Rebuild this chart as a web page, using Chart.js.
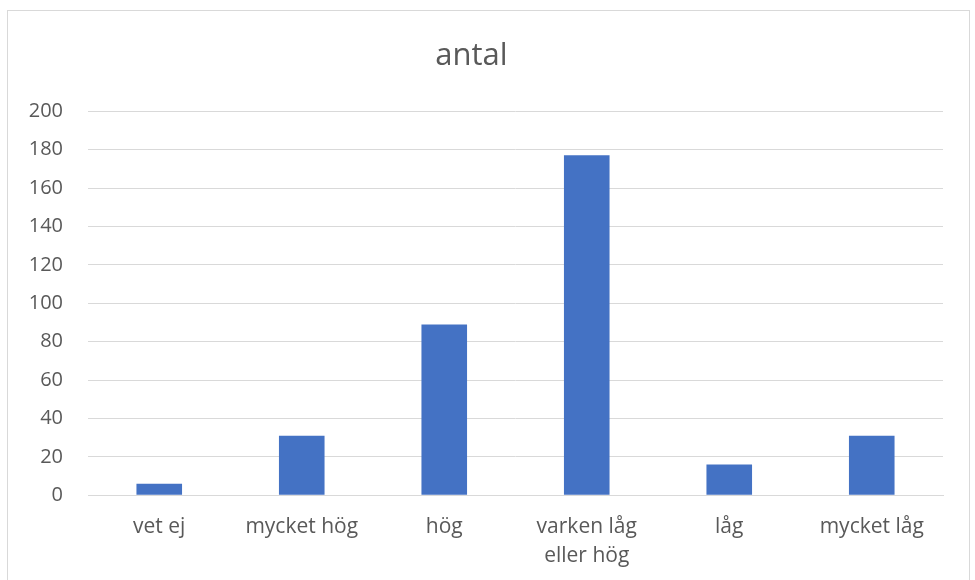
<!DOCTYPE html>
<html>
<head>
<meta charset="utf-8">
<script src="https://cdn.jsdelivr.net/npm/chart.js@4"></script>
<style>
  html, body { margin: 0; padding: 0; background: #fff; overflow: hidden; }
  #wrap { position: relative; width: 975px; height: 580px; overflow: hidden; }
  #ram { position: absolute; left: 7px; top: 10px; width: 961px; height: 600px; border: 1px solid #d9d9d9; }
  canvas { position: absolute; left: 0; top: 0; }
</style>
</head>
<body>
<div id="wrap">
  <div id="ram"></div>
  <canvas id="grafAntal" width="975" height="599"></canvas>
</div>
<script>
// data
const kategorier = ['vet ej', 'mycket hög', 'hög', ['varken låg', 'eller hög'], 'låg', 'mycket låg'];
const antal = [6, 31, 89, 177, 16, 31];
const yMin = 0;
const yMax = 200;
const ySteg = 20;

const typsnitt = "'Open Sans', 'Noto Sans', sans-serif";
const textfarg = '#595959';
const rutnat = '#d9d9d9';

new Chart(document.getElementById('grafAntal'), {
    type: 'bar',
    data: {
        labels: kategorier,
        datasets: [{
            label: 'antal',
            data: antal,
            backgroundColor: '#4472c4',
            borderWidth: 0,
            categoryPercentage: 1,
            barPercentage: 0.32
        }]
    },
    options: {
        responsive: false,
        animation: false,
        maintainAspectRatio: false,
        layout: { padding: { left: 0, right: 32, top: 0, bottom: 11 } },
        plugins: {
            legend: { display: false },
            tooltip: { enabled: false },
            title: {
                display: true,
                text: 'antal',
                color: textfarg,
                font: { family: typsnitt, size: 31, weight: 'normal' },
                padding: { top: 38, bottom: 36 }
            }
        },
        scales: {
            x: {
                grid: { display: false, drawTicks: false },
                border: { display: true, color: rutnat, width: 1 },
                ticks: {
                    color: textfarg,
                    font: { family: typsnitt, size: 21, lineHeight: 1.35 },
                    padding: 18,
                    maxRotation: 0
                }
            },
            y: {
                min: yMin,
                max: yMax,
                grid: { color: rutnat, lineWidth: 1, drawTicks: false },
                border: { display: false },
                ticks: {
                    stepSize: ySteg,
                    color: textfarg,
                    font: { family: typsnitt, size: 20 },
                    padding: 25
                },
                afterFit: function (scale) { scale.width = 88; }
            }
        }
    }
});
</script>
</body>
</html>
